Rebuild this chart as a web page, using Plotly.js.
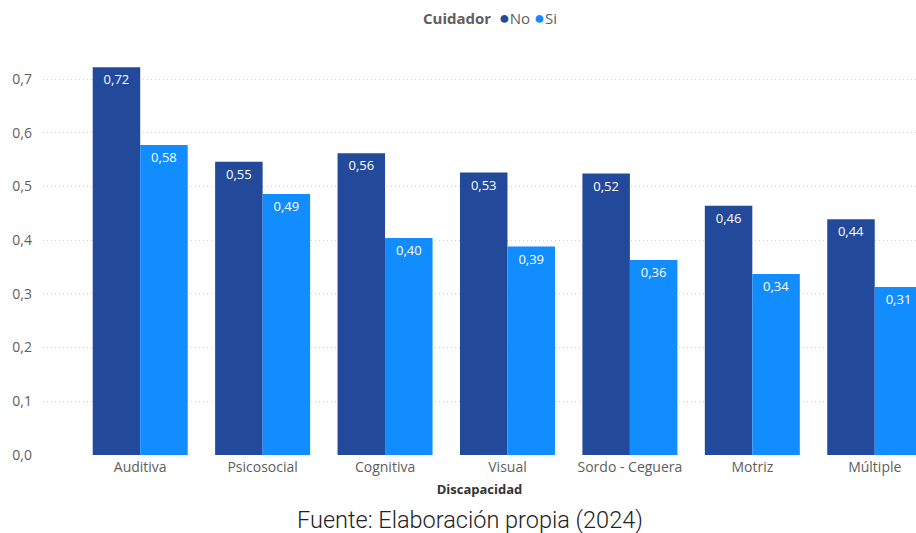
<!DOCTYPE html>
<html>
<head>
<meta charset="utf-8">
<script src="https://cdn.plot.ly/plotly-3.0.1.min.js"></script>
<style>
html,body{margin:0;padding:0;background:#fff;}
#chart{width:916px;height:533px;}
</style>
</head>
<body>
<div id="chart"></div>
<script>
const categories = ["Auditiva","Psicosocial","Cognitiva","Visual","Sordo - Ceguera","Motriz","Múltiple"];
const seriesNames = ["No", "Si"];
const valuesNo = [0.722, 0.546, 0.562, 0.526, 0.524, 0.464, 0.439];
const valuesSi = [0.577, 0.486, 0.404, 0.388, 0.363, 0.337, 0.313];
const yTicks = [0, 0.1, 0.2, 0.3, 0.4, 0.5, 0.6, 0.7];

const colorNo = "#234A9A";
const colorSi = "#118DFF";
const font = "'Segoe UI', 'Open Sans', 'Noto Sans', sans-serif";
const grey = "#605E5C";

const barCommon = {
  type: "bar",
  x: categories,
  texttemplate: "%{y:.2f}",
  textposition: "inside",
  insidetextanchor: "end",
  textangle: 0,
  constraintext: "none",
  textfont: {color: "#ffffff", size: 13, family: font},
  showlegend: false,
  hoverinfo: "x+y"
};

const data = [
  Object.assign({}, barCommon, {name: seriesNames[0], y: valuesNo, marker: {color: colorNo}}),
  Object.assign({}, barCommon, {name: seriesNames[1], y: valuesSi, marker: {color: colorSi}})
];

const legendText = "<b>Cuidador</b>  " +
  "<span style='color:" + colorNo + ";font-size:18px'>●</span>" + seriesNames[0] + " " +
  "<span style='color:" + colorSi + ";font-size:18px'>●</span>" + seriesNames[1];

const layout = {
  width: 916, height: 533,
  separators: ",.",
  paper_bgcolor: "#ffffff",
  plot_bgcolor: "#ffffff",
  margin: {l: 43, r: 0, t: 40, b: 78, pad: 0},
  font: {family: font, color: grey, size: 14},
  barmode: "group",
  bargap: 0.224,
  bargroupgap: 0,
  showlegend: false,
  xaxis: {
    type: "category",
    range: [-0.794, 6.337],
    showgrid: false,
    showline: false,
    zeroline: false,
    ticks: "",
    ticklabelstandoff: 2,
    tickfont: {size: 14, color: grey, family: font},
    title: {text: "<b>Discapacidad</b>", font: {size: 13, color: "#333333", family: font}, standoff: 9},
    fixedrange: true
  },
  yaxis: {
    range: [0, 0.7727],
    tickvals: yTicks,
    tickformat: ".1f",
    showgrid: true,
    gridcolor: "#cfcfcf",
    griddash: "1px,3px",
    gridwidth: 1,
    zeroline: false,
    showline: false,
    ticks: "",
    ticklabelstandoff: 10,
    tickfont: {size: 14, color: grey, family: font},
    fixedrange: true
  },
  annotations: [
    {
      text: legendText,
      xref: "paper", yref: "paper",
      x: 0.512, xanchor: "center",
      y: 1.0554, yanchor: "middle",
      showarrow: false,
      font: {family: font, size: 15, color: grey}
    },
    {
      text: "Fuente: Elaboración propia (2024)",
      xref: "paper", yref: "paper",
      x: 0.489, xanchor: "center",
      y: -0.157, yanchor: "middle",
      showarrow: false,
      font: {family: "Roboto, 'Open Sans', sans-serif", size: 23.5, weight: 300, color: "#222222"}
    }
  ]
};

Plotly.newPlot("chart", data, layout, {displayModeBar: false, staticPlot: true});
</script>
</body>
</html>
